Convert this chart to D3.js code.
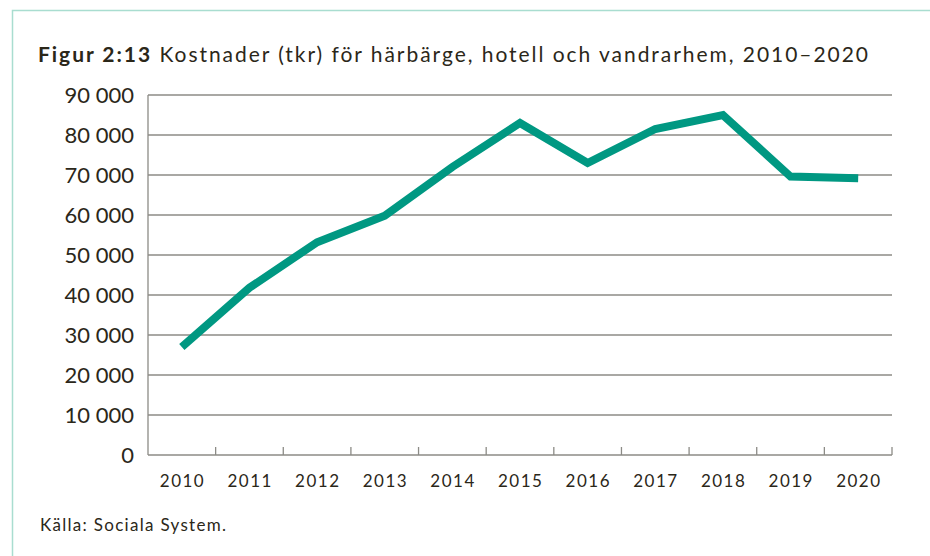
<!DOCTYPE html>
<html>
<head>
<meta charset="utf-8">
<script src="https://cdn.jsdelivr.net/npm/d3@7"></script>
<style>
  body { margin: 0; background: #fff; }
  text { font-family: Lato, "Open Sans", sans-serif; fill: #2b2719; }
</style>
</head>
<body>
<script>
// data
var years = ["2010", "2011", "2012", "2013", "2014", "2015", "2016", "2017", "2018", "2019", "2020"];
var costs = [27000, 41800, 53200, 59800, 72000, 83000, 73000, 81500, 85000, 69600, 69200];
var yTicks = [0, 10000, 20000, 30000, 40000, 50000, 60000, 70000, 80000, 90000];

var width = 930, height = 556;
var plot = {left: 148, right: 892, top: 95, bottom: 455};

var svg = d3.select("body").append("svg")
    .attr("width", width)
    .attr("height", height);

// light teal frame (top + left only)
svg.append("path")
    .attr("d", "M12.5," + height + "V10.5H" + width)
    .attr("fill", "none")
    .attr("stroke", "#a9ddd0")
    .attr("stroke-width", 1.5);

var x = d3.scaleBand()
    .domain(years)
    .range([plot.left, plot.right])
    .padding(0);

var y = d3.scaleLinear()
    .domain([0, 90000])
    .range([plot.bottom, plot.top]);

var fmt = function(d) { return d3.format(",")(d).replace(/,/g, " "); };

// gridlines
svg.append("g").selectAll("line")
    .data(yTicks.filter(d => d > 0))
    .enter().append("line")
    .attr("x1", plot.left).attr("x2", plot.right)
    .attr("y1", d => y(d)).attr("y2", d => y(d))
    .attr("stroke", "#8c8b86")
    .attr("stroke-width", 1.3);

// y labels
svg.append("g").selectAll("text")
    .data(yTicks)
    .enter().append("text")
    .attr("x", 134)
    .attr("y", d => y(d) + 8)
    .attr("text-anchor", "end")
    .style("font-size", "22px")
    .text(fmt);

// axes lines
svg.append("line")
    .attr("x1", plot.left).attr("x2", plot.left)
    .attr("y1", plot.top).attr("y2", plot.bottom)
    .attr("stroke", "#8c8b86").attr("stroke-width", 1.3);
svg.append("line")
    .attr("x1", plot.left).attr("x2", plot.right)
    .attr("y1", plot.bottom).attr("y2", plot.bottom)
    .attr("stroke", "#8c8b86").attr("stroke-width", 1.3);

// x ticks at band edges
svg.append("g").selectAll("line")
    .data(years)
    .enter().append("line")
    .attr("x1", d => x(d) + x.bandwidth()).attr("x2", d => x(d) + x.bandwidth())
    .attr("y1", plot.bottom - 8).attr("y2", plot.bottom)
    .attr("stroke", "#8c8b86").attr("stroke-width", 1.3);

// x labels
svg.append("g").selectAll("text")
    .data(years)
    .enter().append("text")
    .attr("x", d => x(d) + x.bandwidth() / 2 + 0.7)
    .attr("y", 487)
    .attr("text-anchor", "middle")
    .style("font-size", "17px")
    .style("letter-spacing", "1.5px")
    .text(d => d);

// the line
var line = d3.line()
    .x((d, i) => x(years[i]) + x.bandwidth() / 2)
    .y(d => y(d));

svg.append("path")
    .datum(costs)
    .attr("d", line)
    .attr("fill", "none")
    .attr("stroke", "#009882")
    .attr("stroke-width", 8)
    .attr("stroke-linejoin", "miter");

// title
var title = svg.append("text")
    .attr("x", 38)
    .attr("y", 62)
    .attr("textLength", 830)
    .attr("lengthAdjust", "spacing")
    .style("font-size", "21px");
title.append("tspan").style("font-weight", "bold").text("Figur 2:13");
title.append("tspan").text(" Kostnader (tkr) för härbärge, hotell och vandrarhem, 2010–2020");

// source
svg.append("text")
    .attr("x", 40)
    .attr("y", 531)
    .attr("textLength", 186)
    .attr("lengthAdjust", "spacing")
    .style("font-size", "17px")
    .text("Källa: Sociala System.");
</script>
</body>
</html>
